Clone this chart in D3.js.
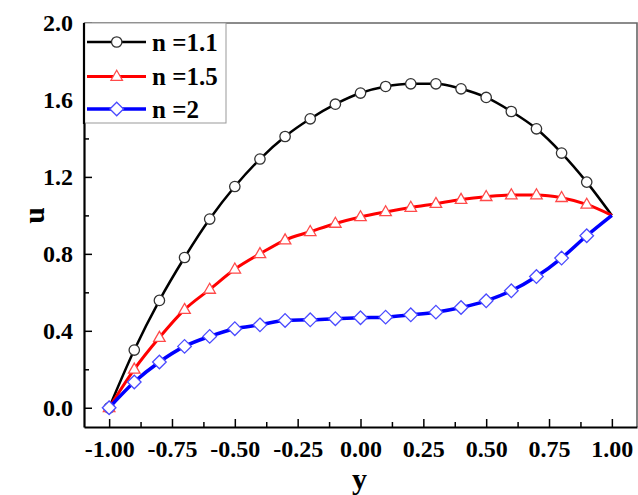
<!DOCTYPE html>
<html>
<head>
<meta charset="utf-8">
<script src="https://cdn.jsdelivr.net/npm/d3@7"></script>
<style>
  html, body { margin: 0; padding: 0; background: #fff; }
  svg { display: block; }
  text { font-family: "Liberation Serif", "Times New Roman", serif; font-weight: bold; }
</style>
</head>
<body>
<svg id="chart" width="638" height="495"></svg>
<script>
// ---- data ----
const yPos = [-1.0, -0.9, -0.8, -0.7, -0.6, -0.5, -0.4, -0.3, -0.2, -0.1, 0.0,
              0.1, 0.2, 0.3, 0.4, 0.5, 0.6, 0.7, 0.8, 0.9, 1.0];
const uN11 = [0.0, 0.30, 0.558, 0.781, 0.981, 1.150, 1.293, 1.410, 1.502, 1.578, 1.636,
              1.670, 1.684, 1.684, 1.658, 1.613, 1.540, 1.450, 1.324, 1.173, 1.0];
const uN15 = [0.0, 0.20, 0.365, 0.51, 0.615, 0.72, 0.80, 0.872, 0.915, 0.958, 0.992,
              1.018, 1.041, 1.061, 1.082, 1.097, 1.106, 1.106, 1.092, 1.057, 1.0];
const uN2  = [0.0, 0.134, 0.238, 0.319, 0.371, 0.411, 0.431, 0.454, 0.457, 0.463, 0.468,
              0.471, 0.483, 0.497, 0.521, 0.556, 0.608, 0.682, 0.778, 0.894, 1.0];
const seriesNames = ["n =1.1", "n =1.5", "n =2"];
const xTickLabels = ["-1.00", "-0.75", "-0.50", "-0.25", "0.00", "0.25", "0.50", "0.75", "1.00"];
const xTicks = [-1.0, -0.75, -0.5, -0.25, 0.0, 0.25, 0.5, 0.75, 1.0];
const xMinorTicks = [-0.875, -0.625, -0.375, -0.125, 0.125, 0.375, 0.625, 0.875];
const yTickLabels = ["0.0", "0.4", "0.8", "1.2", "1.6", "2.0"];
const yTicks = [0.0, 0.4, 0.8, 1.2, 1.6, 2.0];
const yMinorTicks = [0.2, 0.6, 1.0, 1.4, 1.8];
const xTitle = "y";
const yTitle = "u";

// ---- layout ----
const L = 84, R = 637, T = 23, B = 427;
const svg = d3.select("#chart");
const x = d3.scaleLinear().domain([-1.1, 1.1]).range([L, R]);
const y = d3.scaleLinear().domain([-0.1, 2.0]).range([B, T]);

// frame (top/right gray)
svg.append("path")
  .attr("d", `M${L},${T}H${R}V${B}`)
  .attr("fill", "none").attr("stroke", "#666").attr("stroke-width", 1.6);

// axes
const fontSize = 24;
const xAxis = svg.append("g").attr("transform", `translate(0,${B})`)
  .call(d3.axisBottom(x).tickValues(xTicks).tickSizeInner(-8).tickSizeOuter(0)
        .tickPadding(13).tickFormat((d, i) => xTickLabels[i]));
svg.append("g").attr("transform", `translate(0,${B})`)
  .call(d3.axisBottom(x).tickValues(xMinorTicks).tickSizeInner(-5).tickSizeOuter(0).tickFormat(""))
  .call(g => g.select(".domain").remove());
const yAxis = svg.append("g").attr("transform", `translate(${L},0)`)
  .call(d3.axisLeft(y).tickValues(yTicks).tickSizeInner(-8).tickSizeOuter(0)
        .tickPadding(11).tickFormat((d, i) => yTickLabels[i]));
svg.append("g").attr("transform", `translate(${L},0)`)
  .call(d3.axisLeft(y).tickValues(yMinorTicks).tickSizeInner(-5).tickSizeOuter(0).tickFormat(""))
  .call(g => g.select(".domain").remove());

svg.selectAll(".tick line").attr("stroke", "#000").attr("stroke-width", 1.5);
svg.selectAll(".domain").attr("stroke", "#000").attr("stroke-width", 2.2);
svg.selectAll(".tick text")
  .attr("font-family", '"Liberation Serif", "Times New Roman", serif')
  .attr("font-weight", "bold").attr("font-size", fontSize).attr("fill", "#000");

// axis titles
svg.append("text").attr("x", (L + R) / 2 - 1).attr("y", 489)
  .attr("text-anchor", "middle").attr("font-size", 30).text(xTitle);
svg.append("text").attr("transform", `translate(44,${y(1.0)}) rotate(-90)`)
  .attr("text-anchor", "middle").attr("font-size", 30).text(yTitle);

// series
const series = [
  { name: seriesNames[0], vals: uN11, line: "#000", mark: "#333", lw: 2.5, sym: "circle" },
  { name: seriesNames[1], vals: uN15, line: "#ff0000", mark: "#ff4a4a", lw: 3.0, sym: "triangle" },
  { name: seriesNames[2], vals: uN2,  line: "#0000ff", mark: "#4a4aff", lw: 3.5, sym: "diamond" }
];

const lineGen = d3.line().x(d => x(d[0])).y(d => y(d[1])).curve(d3.curveMonotoneX);

function drawMarker(g, sym, cx, cy, color) {
  if (sym === "circle") {
    g.append("circle").attr("cx", cx).attr("cy", cy).attr("r", 5.2)
      .attr("fill", "#fff").attr("stroke", color).attr("stroke-width", 1.3);
  } else if (sym === "triangle") {
    const h = 10, w = 11.5;
    g.append("path")
      .attr("d", `M${cx},${cy - h * 0.62}L${cx + w / 2},${cy + h * 0.38}L${cx - w / 2},${cy + h * 0.38}Z`)
      .attr("fill", "#fff").attr("stroke", color).attr("stroke-width", 1.3);
  } else {
    const s = 6.8;
    g.append("path")
      .attr("d", `M${cx},${cy - s}L${cx + s},${cy}L${cx},${cy + s}L${cx - s},${cy}Z`)
      .attr("fill", "#fff").attr("stroke", color).attr("stroke-width", 1.3);
  }
}

series.forEach(s => {
  const pts = yPos.map((v, i) => [v, s.vals[i]]);
  const g = svg.append("g");
  g.append("path").attr("d", lineGen(pts)).attr("fill", "none")
    .attr("stroke", s.line).attr("stroke-width", s.lw).attr("stroke-linejoin", "round");
  pts.slice(0, pts.length - 1).forEach(p => drawMarker(g, s.sym, x(p[0]), y(p[1]), s.mark));
});

// legend
const lg = svg.append("g");
lg.append("rect").attr("x", L).attr("y", T).attr("width", 226 - L).attr("height", 123 - T)
  .attr("fill", "#fff").attr("stroke", "#999").attr("stroke-width", 1);
lg.append("line").attr("x1", L).attr("x2", L).attr("y1", T).attr("y2", 124)
  .attr("stroke", "#000").attr("stroke-width", 2.2);
const legendY = [42, 76.5, 109];
series.forEach((s, i) => {
  const cy = legendY[i];
  lg.append("line").attr("x1", 87).attr("x2", 146).attr("y1", cy).attr("y2", cy)
    .attr("stroke", s.line).attr("stroke-width", s.lw);
  drawMarker(lg, s.sym, 116.7, cy, s.mark);
  lg.append("text").attr("x", 152).attr("y", cy + 8.5).attr("font-size", 25).text(s.name);
});
</script>
</body>
</html>
